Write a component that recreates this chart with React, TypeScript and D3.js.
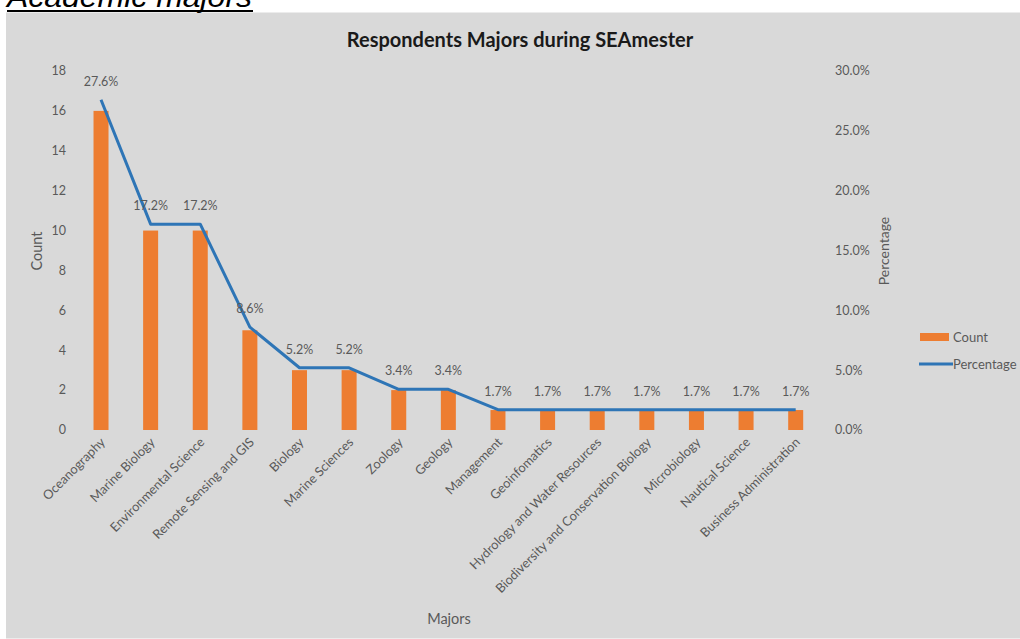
import React from "react";
import * as d3 from "d3";

const majors = [
  "Oceanography",
  "Marine Biology",
  "Environmental Science",
  "Remote Sensing and GIS",
  "Biology",
  "Marine Sciences",
  "Zoology",
  "Geology",
  "Management",
  "Geoinfomatics",
  "Hydrology and Water Resources",
  "Biodiversity and Conservation Biology",
  "Microbiology",
  "Nautical Science",
  "Business Administration",
];
const counts = [16, 10, 10, 5, 3, 3, 2, 2, 1, 1, 1, 1, 1, 1, 1];
const percents = [27.6, 17.2, 17.2, 8.6, 5.2, 5.2, 3.4, 3.4, 1.7, 1.7, 1.7, 1.7, 1.7, 1.7, 1.7];
const countTicks = [0, 2, 4, 6, 8, 10, 12, 14, 16, 18];
const pctTicks = [0, 5, 10, 15, 20, 25, 30];

const W = 1020;
const H = 639;
const FONT = "Lato, 'Open Sans', 'DejaVu Sans', sans-serif";
const GREY = "#595959";
const ORANGE = "#ed7d31";
const BLUE = "#2e75b6";

export default function App() {
  const left = 76.2;
  const right = 820.5;
  const top = 71;
  const bottom = 430;

  const x = d3.scaleBand<string>().domain(majors).range([left, right]).paddingInner(0).paddingOuter(0);
  const yC = d3.scaleLinear().domain([0, 18]).range([bottom, top]);
  const yP = d3.scaleLinear().domain([0, 30]).range([bottom, top]);
  const barW = 15;
  const cx = (m: string) => (x(m) as number) + x.bandwidth() / 2;

  const line = d3
    .line<number>()
    .x((_, i) => cx(majors[i]))
    .y((d) => yP(d));

  return (
    <svg
      width={W}
      height={H}
      style={{ position: "absolute", left: 0, top: 0, display: "block", background: "#fff" }}
    >
      <rect x={6} y={12.5} width={W - 6} height={H - 13} fill="#d9d9d9" />
      <text
        x={7}
        y={7}
        fontFamily="'Liberation Sans', Arial, sans-serif"
        fontStyle="italic"
        fontSize={30}
        fill="#000"
        textLength={245}
        lengthAdjust="spacingAndGlyphs"
      >
        Academic majors
      </text>
      <rect x={7} y={10} width={246} height={2} fill="#000" />

      <text
        x={520}
        y={47}
        textAnchor="middle"
        fontFamily={FONT}
        fontWeight="bold"
        fontSize={20}
        fill="#1a1a1a"
      >
        Respondents Majors during SEAmester
      </text>

      {countTicks.map((t) => (
        <text
          key={"c" + t}
          x={66}
          y={yC(t)}
          dy="0.35em"
          textAnchor="end"
          fontFamily={FONT}
          fontSize={12.5}
          fill={GREY}
        >
          {t}
        </text>
      ))}
      {pctTicks.map((t) => (
        <text
          key={"p" + t}
          x={835}
          y={yP(t)}
          dy="0.35em"
          textAnchor="start"
          fontFamily={FONT}
          fontSize={12.5}
          fill={GREY}
        >
          {t.toFixed(1) + "%"}
        </text>
      ))}

      <text
        transform={`translate(42,${251}) rotate(-90)`}
        textAnchor="middle"
        fontFamily={FONT}
        fontSize={14.5}
        fill={GREY}
      >
        Count
      </text>
      <text
        transform={`translate(889,${251}) rotate(-90)`}
        textAnchor="middle"
        fontFamily={FONT}
        fontSize={14}
        fill={GREY}
      >
        Percentage
      </text>

      {majors.map((m, i) => (
        <rect
          key={"b" + m}
          x={cx(m) - barW / 2}
          y={yC(counts[i])}
          width={barW}
          height={bottom - yC(counts[i])}
          fill={ORANGE}
        />
      ))}

      <path d={line(percents) || ""} fill="none" stroke={BLUE} strokeWidth={3} strokeLinejoin="round" />

      {majors.map((m, i) => (
        <text
          key={"l" + m}
          x={cx(m)}
          y={yP(percents[i]) - 14}
          textAnchor="middle"
          fontFamily={FONT}
          fontSize={12.5}
          fill={GREY}
        >
          {percents[i].toFixed(1) + "%"}
        </text>
      ))}

      {majors.map((m) => (
        <text
          key={"x" + m}
          transform={`translate(${cx(m) + 5},${443}) rotate(-45)`}
          textAnchor="end"
          fontFamily={FONT}
          fontSize={12.8}
          fill={GREY}
        >
          {m}
        </text>
      ))}

      <text x={449} y={624} textAnchor="middle" fontFamily={FONT} fontSize={14.5} fill={GREY}>
        Majors
      </text>

      <rect x={920} y={333} width={29} height={8} fill={ORANGE} />
      <text x={953} y={337.5} dy="0.35em" fontFamily={FONT} fontSize={13} fill={GREY}>
        Count
      </text>
      <line x1={919} x2={953} y1={364} y2={364} stroke={BLUE} strokeWidth={3} />
      <text x={953} y={364} dy="0.35em" fontFamily={FONT} fontSize={13} fill={GREY}>
        Percentage
      </text>
    </svg>
  );
}
